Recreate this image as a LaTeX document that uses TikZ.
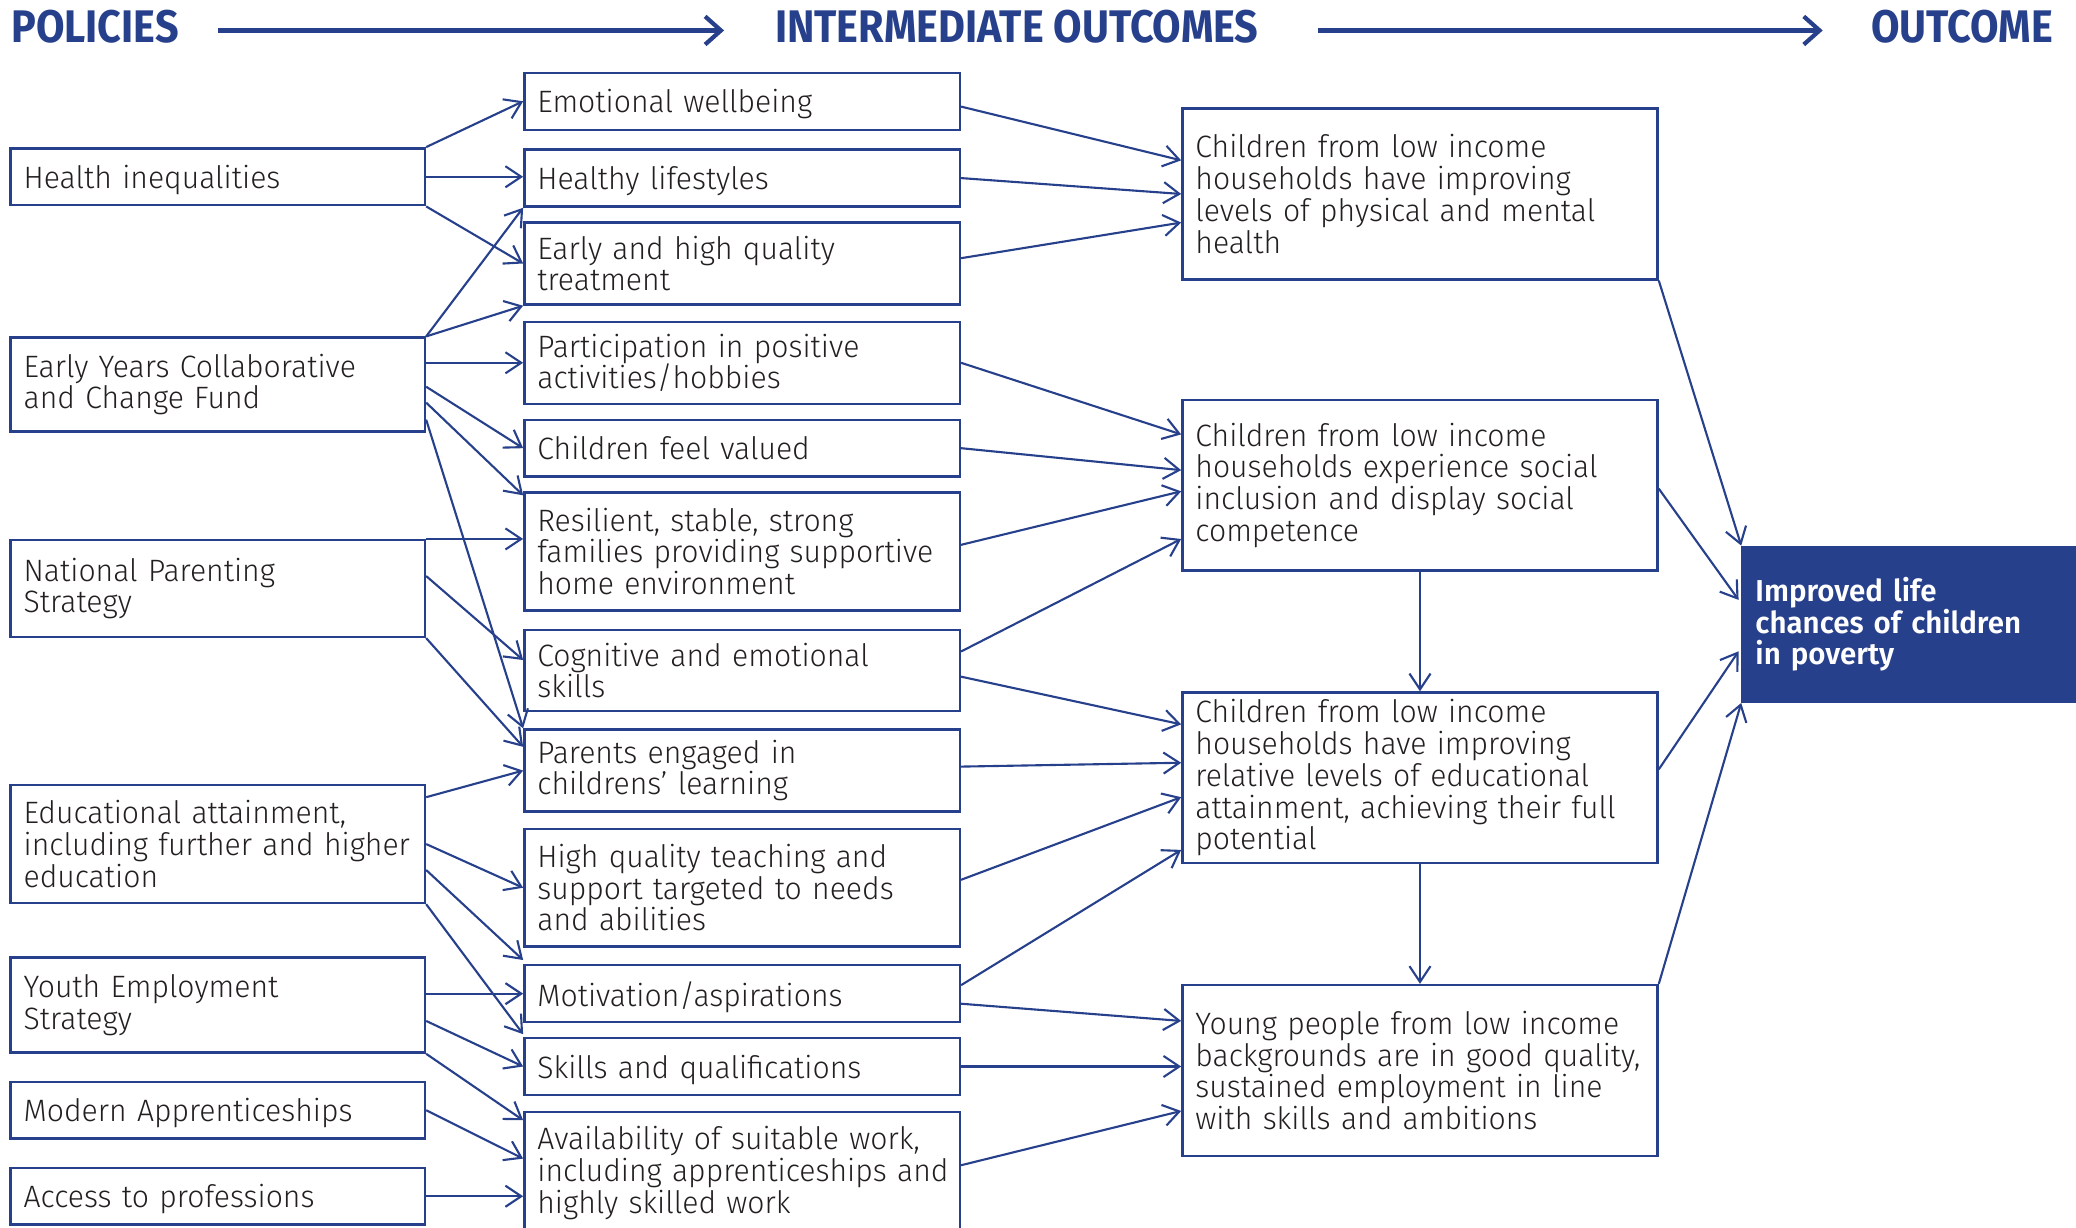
\documentclass[tikz,border=0pt]{standalone}
\usepackage{fontspec}
\setmainfont{Fira Sans Light}[BoldFont={Fira Sans SemiBold}, FakeStretch=0.975]
\newfontfamily\headfont{Fira Sans}[FakeStretch=0.905]
\usepackage[svgnames]{xcolor}
\usepackage{tikz}
\usetikzlibrary{arrows.meta, calc, positioning}

\definecolor{navy}{RGB}{39,64,139}
\definecolor{ink}{RGB}{35,31,32}
\newcommand\bodyfont{\fontsize{8.8}{9.03}\selectfont\hyphenpenalty=10000 \exhyphenpenalty=10000 }

\begin{document}
\begin{tikzpicture}[x=0.01324cm, y=-0.01324cm,
    box/.style={draw=navy, line width=0.7pt, rectangle, align=left, inner xsep=0.02cm, inner ysep=0pt, text=ink, font=\bodyfont, execute at begin node={\leftskip=0.11cm}},
    oneline/.style={text depth=0pt},
    policy/.style={box, text width=4.104cm},
    middle/.style={box, text width=4.316cm},
    outcome/.style={box, text width=4.713cm, minimum height=1.708cm},
    final/.style={box, fill=navy, text=white, text width=3.296cm, minimum height=1.549cm, font=\fontsize{8.6}{9.03}\selectfont\bfseries},
    head/.style={inner sep=0pt, text=navy, font=\headfont\bfseries\fontsize{13}{13}\selectfont},
    link/.style={draw=navy, line width=0.6pt, -{Straight Barb[length=4.5pt,width=6pt]}},
    headarrow/.style={draw=navy, line width=1.2pt, -{Straight Barb[length=4.5pt,width=8pt]}}]
                \useasboundingbox (0,0) rectangle (1568,927);

                \node[head, anchor=west] (hpol) at (8,20) {POLICIES};
                \node[head] (hint) at (768,20) {INTERMEDIATE OUTCOMES};
                \node[head, anchor=east] (hout) at (1551,20) {OUTCOME};
                \draw[headarrow] ($(hpol.east)+(29,3)$) -- ($(hint.west)+(-38,3)$);
                \draw[headarrow] ($(hint.east)+(44,3)$) -- ($(hout.west)+(-36,3)$);

                % policies
                \node[policy, oneline, minimum height=0.569cm] (pol1) at (164.5,133.5) {Health inequalities};
                \node[policy, minimum height=0.940cm] (pol2) at (164.5,290.5) {Early Years Collaborative\\and Change Fund};
                \node[policy, minimum height=0.967cm] (pol3) at (164.5,444.5) {National Parenting\\Strategy};
                \node[policy, minimum height=1.178cm] (pol4) at (164.5,637.5) {Educational attainment,\\including further and higher\\education};
                \node[policy, minimum height=0.953cm] (pol5) at (164.5,759) {Youth Employment\\Strategy};
                \node[policy, oneline, minimum height=0.569cm] (pol6) at (164.5,838.5) {Modern Apprenticeships};
                \node[policy, oneline, minimum height=0.569cm] (pol7) at (164.5,903.5) {Access to professions};

                % intermediate outcomes
                \node[middle, oneline, minimum height=0.569cm] (m1) at (560.5,76.5) {Emotional wellbeing};
                \node[middle, oneline, minimum height=0.569cm] (m2) at (560.5,134.5) {Healthy lifestyles};
                \node[middle, minimum height=0.821cm] (m3) at (560.5,199) {Early and high quality\\treatment};
                \node[middle, minimum height=0.821cm] (m4) at (560.5,274) {Participation in positive\\activities/hobbies};
                \node[middle, oneline, minimum height=0.569cm] (m5) at (560.5,338.5) {Children feel valued};
                \node[middle, minimum height=1.178cm] (m6) at (560.5,416.5) {Resilient, stable, strong\\families providing supportive\\home environment};
                \node[middle, minimum height=0.808cm] (m7) at (560.5,506.5) {Cognitive and emotional\\skills};
                \node[middle, minimum height=0.821cm] (m8) at (560.5,582) {Parents engaged in\\childrens’ learning};
                \node[middle, minimum height=1.178cm] (m9) at (560.5,670.5) {High quality teaching and\\support targeted to needs\\and abilities};
                \node[middle, oneline, minimum height=0.569cm] (m10) at (560.5,750.5) {Motivation/aspirations};
                \node[middle, oneline, minimum height=0.569cm] (m11) at (560.5,805.5) {Skills and qualifications};
                \node[middle, minimum height=1.218cm] (m12) at (560.5,886) {Availability of suitable work,\\including apprenticeships and\\highly skilled work};

                % outcomes
                \node[outcome] (o1) at (1072.5,146.5) {Children from low income\\households have improving\\levels of physical and mental\\health};
                \node[outcome] (o2) at (1072.5,366.5) {Children from low income\\households experience social\\inclusion and display social\\competence};
                \node[outcome] (o3) at (1072.5,587.5) {Children from low income\\households have improving\\relative levels of educational\\attainment, achieving their full\\potential};
                \node[outcome] (o4) at (1072.5,808.5) {Young people from low income\\backgrounds are in good quality,\\sustained employment in line\\with skills and ambitions};
                \node[final] (fin) at (1442,471.5) {Improved life\\chances of children\\in poverty};

                % policies to intermediate outcomes
                \draw[link] (pol1.north east) -- (m1.west);
                \draw[link] (pol1.east) -- (pol1.east -| m2.west);
                \draw[link] (pol1.south east) -- (m3.west);
                \draw[link] (pol2.north east) -- (m2.south west);
                \draw[link] (pol2.north east) -- (m3.south west);
                \draw[link] (m4.west -| pol2.east) -- (m4.west);
                \draw[link] ($(pol2.north east)+(0,38)$) -- (m5.west);
                \draw[link] ($(pol2.north east)+(0,50)$) -- ($(m6.north west)+(0,3)$);
                \draw[link] ($(pol2.south east)+(0,-10)$) -- (m8.north west);
                \draw[link] (pol3.north east) -- (pol3.north east -| m6.west);
                \draw[link] ($(pol3.north east)+(0,28)$) -- ($(m7.west)+(0,-8)$);
                \draw[link] (pol3.south east) -- ($(m8.north west)+(0,14)$);
                \draw[link] ($(pol4.north east)+(0,10)$) -- (m8.west);
                \draw[link] (pol4.east) -- (m9.west);
                \draw[link] ($(pol4.north east)+(0,65)$) -- ($(m10.north west)+(0,-3)$);
                \draw[link] (pol4.south east) -- ($(m11.north west)+(0,-2)$);
                \draw[link] (m10.west -| pol5.east) -- (m10.west);
                \draw[link] ($(pol5.north east)+(0,49)$) -- (m11.west);
                \draw[link] (pol5.south east) -- ($(m12.north west)+(0,7)$);
                \draw[link] (pol6.east) -- ($(m12.north west)+(0,36)$);
                \draw[link] (pol7.east) -- (pol7.east -| m12.west);

                % intermediate outcomes to outcomes
                \draw[link] ($(m1.east)+(0,4)$) -- ($(o1.north west)+(0,40)$);
                \draw[link] (m2.east) -- (o1.west);
                \draw[link] ($(m3.east)+(0,-4)$) -- ($(o1.north west)+(0,87)$);
                \draw[link] (m4.east) -- ($(o2.north west)+(0,27)$);
                \draw[link] (m5.east) -- ($(o2.north west)+(0,54)$);
                \draw[link] ($(m6.east)+(0,-5)$) -- ($(o2.north west)+(0,70)$);
                \draw[link] ($(m7.north east)+(0,17)$) -- ($(o2.north west)+(0,106)$);
                \draw[link] ($(m7.north east)+(0,36)$) -- ($(o3.north west)+(0,25)$);
                \draw[link] ($(m8.east)+(0,-3)$) -- ($(o3.north west)+(0,54)$);
                \draw[link] ($(m9.east)+(0,-6)$) -- ($(o3.north west)+(0,80)$);
                \draw[link] ($(m10.north east)+(0,16)$) -- ($(o3.south west)+(0,-11)$);
                \draw[link] ($(m10.north east)+(0,30)$) -- ($(o4.north west)+(0,28)$);
                \draw[link] (m11.east) -- (m11.east -| o4.west);
                \draw[link] ($(m12.north east)+(0,41)$) -- ($(o4.north west)+(0,96)$);

                % outcomes
                \draw[link] (o2.south) -- (o3.north);
                \draw[link] (o3.south) -- (o4.north);
                \draw[link] (o1.south east) -- (fin.north west);
                \draw[link] ($(o2.north east)+(0,68)$) -- ($(fin.north west)+(-2,41)$);
                \draw[link] ($(o3.north east)+(0,59)$) -- ($(fin.south west)+(-2,-39)$);
                \draw[link] (o4.north east) -- (fin.south west);
            \end{tikzpicture}
\end{document}
